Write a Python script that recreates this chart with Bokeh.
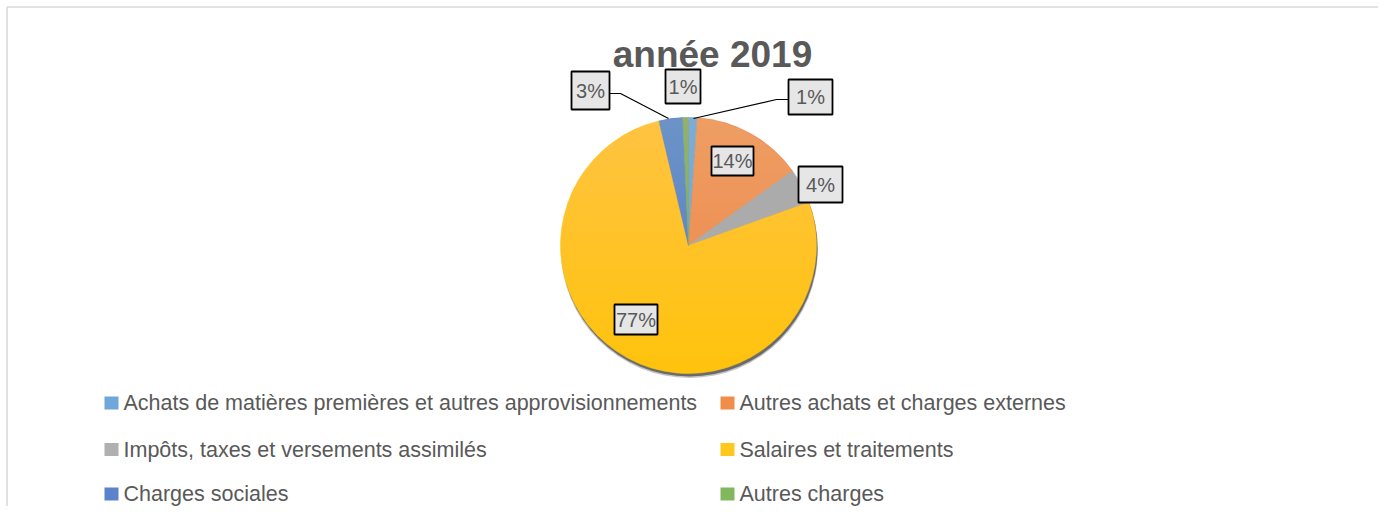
import numpy as np
from bokeh.plotting import figure
from bokeh.models import Range1d
from bokeh.embed import file_html
from bokeh.resources import INLINE
from bokeh.core.properties import value

# ---------------- data ----------------
title_text = "année 2019"
categories = [
    "Achats de matières premières et autres approvisionnements",
    "Autres achats et charges externes",
    "Impôts, taxes et versements assimilés",
    "Salaires et traitements",
    "Charges sociales",
    "Autres charges",
]
shares = [1.1, 14.0, 4.4, 76.8, 3.0, 0.7]
colors = ["#5B9BD5", "#ED7D31", "#A5A5A5", "#FFC000", "#4472C4", "#70AD47"]

# ---------------- layout (pixels, image coordinates) ----------------
W, H = 1378, 506
FONT = "Liberation Sans"
TXT = "#595959"

def Y(img_y):
    return H - img_y  # image y (down) -> data y (up)

def lighten(hex_color, a):
    h = hex_color.lstrip("#")
    rgb = [int(h[i:i + 2], 16) for i in (0, 2, 4)]
    return "#" + "".join(f"{int(round(c + (255 - c) * a)):02x}" for c in rgb)

CX, CY, R = 688, 245, 128

# label layout: offset of box centre from pie centre, box size, leader polyline (offsets)
label_layout = [
    dict(dx=122, dy=-148.5, w=44, h=35, leader=[(100, -146), (88, -146), (5, -127)]),
    dict(dx=44, dy=-84.5, w=42, h=29, leader=None),
    dict(dx=132, dy=-61, w=44, h=36, leader=None),
    dict(dx=-52.5, dy=74, w=43, h=30, leader=None),
    dict(dx=-98, dy=-155, w=38, h=38, leader=[(-79, -152), (-68, -152), (-20, -127)]),
    dict(dx=-5.5, dy=-159, w=35, h=34, leader=None),
]

p = figure(width=W, height=H, output_backend="svg", toolbar_location=None,
           x_range=Range1d(0, W), y_range=Range1d(0, H),
           min_border=0, outline_line_color=None)
p.axis.visible = False
p.grid.visible = False
p.background_fill_color = "white"
p.border_fill_color = "white"

# chart-area border (left and top visible in the reference)
p.line(x=[6.5, 6.5], y=[Y(H), Y(6.5)], line_color="#D9D9D9", line_width=1.5)
p.line(x=[6.5, W], y=[Y(6.5), Y(6.5)], line_color="#D9D9D9", line_width=1.5)

# title
p.text(x=[712], y=[Y(54)], text=[title_text], text_font=value(FONT), text_font_style="bold",
       text_font_size="37px", text_color=TXT, text_align="center", text_baseline="middle")

# shadow
p.circle(x=[CX + 1], y=[Y(CY + 4)], radius=R + 0.5, fill_color="#595959", fill_alpha=0.35, line_color=None)
p.circle(x=[CX + 1], y=[Y(CY + 3)], radius=R, fill_color="#5f5f5f", fill_alpha=0.9, line_color=None)

# pie slices (start at 12 o'clock, clockwise)
vals = np.array(shares, dtype=float)
frac = vals / vals.sum()
cum = np.concatenate([[0.0], np.cumsum(frac)])
starts = np.pi / 2 - 2 * np.pi * cum[:-1]
ends = np.pi / 2 - 2 * np.pi * cum[1:]
slice_colors = [lighten(c, 0.05) for c in colors]
p.wedge(x=[CX] * len(vals), y=[Y(CY)] * len(vals), radius=R,
        start_angle=list(starts), end_angle=list(ends), direction="clock",
        fill_color=slice_colors, line_color=slice_colors, line_width=0.5)

# soft vertical light gradient (stacked caps, lighter at the top)
N = 26
xs, ys = [], []
for k in range(1, N + 1):
    yk = CY - R + 2 * R * k / (N + 1)
    T = np.arccos(np.clip((CY - yk) / R, -1, 1))
    t = np.linspace(-T, T, 80)
    xs.append(list(CX + R * np.sin(t)))
    ys.append(list(Y(CY - R * np.cos(t))))
p.patches(xs=xs, ys=ys, fill_color="white", fill_alpha=0.011, line_color=None)

# data labels
pct = [f"{int(round(f * 100))}%" for f in frac]
for lab, lay in zip(pct, label_layout):
    if lay["leader"]:
        lx = [CX + a for a, b in lay["leader"]]
        ly = [Y(CY + b) for a, b in lay["leader"]]
        p.line(x=lx, y=ly, line_color="black", line_width=1.2)
bx = [CX + l["dx"] for l in label_layout]
by = [Y(CY + l["dy"]) for l in label_layout]
p.rect(x=bx, y=by, width=[l["w"] for l in label_layout], height=[l["h"] for l in label_layout],
       fill_color="#E6E6E6", line_color="black", line_width=1.8)
p.text(x=bx, y=by, text=pct, text_font=value(FONT), text_font_size="20px", text_color=TXT,
       text_align="center", text_baseline="middle")

# legend (2 columns, row-major)
col_x = [111, 727]
row_y = [402.5, 449, 493.5]
mx, my, tx = [], [], []
for i, c in enumerate(categories):
    mx.append(col_x[i % 2])
    my.append(Y(row_y[i // 2]))
    tx.append(col_x[i % 2] + 12)
p.rect(x=mx, y=my, width=14, height=13, fill_color=[lighten(c, 0.12) for c in colors], line_color=None)
p.text(x=tx, y=my, text=categories, text_font=value(FONT), text_font_size="21.5px",
       text_color=TXT, text_align="left", text_baseline="middle")

open("out.html", "w").write(file_html(p, INLINE))
